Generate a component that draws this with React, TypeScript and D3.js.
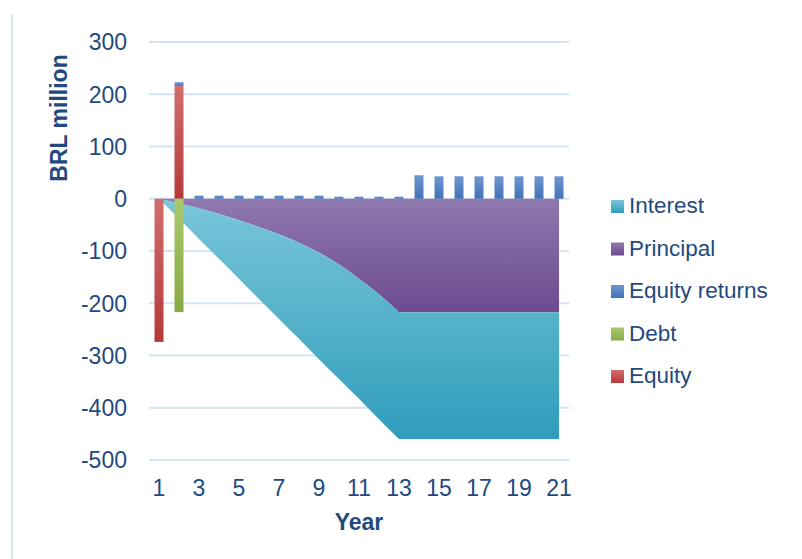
import React from "react";
import * as d3 from "d3";

const years = d3.range(1, 22);
const interest = [0, -29, -59, -86, -112, -138, -162, -184, -204, -219, -230, -239, -243, -243, -243, -243, -243, -243, -243, -243, -243];
const principal = [0, -9, -18, -29, -41, -54, -68, -84, -103, -126, -153, -183, -217, -217, -217, -217, -217, -217, -217, -217, -217];
const equityReturns = [0, 7, 6, 6, 6, 6, 6, 6, 6, 4, 4, 4, 4, 45, 43, 43, 43, 43, 43, 43, 43];
const debt = [0, -217, 0, 0, 0, 0, 0, 0, 0, 0, 0, 0, 0, 0, 0, 0, 0, 0, 0, 0, 0];
const equity = [-274, 216, 0, 0, 0, 0, 0, 0, 0, 0, 0, 0, 0, 0, 0, 0, 0, 0, 0, 0, 0];
const yTicks = [300, 200, 100, 0, -100, -200, -300, -400, -500];
const xTickLabels = [1, 3, 5, 7, 9, 11, 13, 15, 17, 19, 21];
const legendItems = ["Interest", "Principal", "Equity returns", "Debt", "Equity"];
const repaymentEndYear = 13;

const W = 802, H = 559;
const FONT = "'Liberation Sans', Arial, sans-serif";
const TEXT = "#23497e";
const GRID = "#d6e3f4";

const gradients: Record<string, [string, string]> = {
  Interest: ["#7ac6da", "#2f9dbb"],
  Principal: ["#9079ae", "#6c4b91"],
  "Equity returns": ["#6e96d1", "#4273b7"],
  Debt: ["#aac96f", "#88aa43"],
  Equity: ["#d06f6d", "#b6393a"],
};

export default function App() {
  const x = d3.scaleBand<number>().domain(years).range([149, 569]).paddingInner(0.55).paddingOuter(0.275);
  const y = d3.scaleLinear().domain([-500, 300]).range([460, 42]);
  const cx = (yr: number) => (x(yr) as number) + x.bandwidth() / 2;

  const areaRows = years.map((yr, i) => ({ year: yr, Principal: principal[i], Interest: interest[i] }));
  const areaStack = d3.stack<any>().keys(["Principal", "Interest"]).offset(d3.stackOffsetDiverging)(areaRows);
  const areaCurve = d3.area<any>().curve(d3.curveMonotoneX).x((d) => cx(d.data.year)).y0((d) => y(d[0])).y1((d) => y(d[1]));
  const areaFlat = d3.area<any>().x((d) => cx(d.data.year)).y0((d) => y(d[0])).y1((d) => y(d[1]));

  const barRows = years.map((yr, i) => ({ year: yr, Equity: equity[i], Debt: debt[i], "Equity returns": equityReturns[i] }));
  const barStack = d3.stack<any>().keys(["Equity", "Debt", "Equity returns"]).offset(d3.stackOffsetDiverging)(barRows);

  return (
    <svg width={W} height={H} style={{ position: "absolute", left: 0, top: 0, background: "#fff" }} fontFamily={FONT}>
      <defs>
        {Object.entries(gradients).map(([k, [a, b]], i) => (
          <linearGradient key={k} id={`g${i}`} x1="0" y1="0" x2="0" y2="1">
            <stop offset="0%" stopColor={a} />
            <stop offset="100%" stopColor={b} />
          </linearGradient>
        ))}
        {areaStack.map((s) => {
          const [a, b] = gradients[s.key];
          const lo = d3.min(s, (d: any) => Math.min(d[0], d[1])) as number;
          return (
            <linearGradient key={s.key} id={`a-${s.key}`} gradientUnits="userSpaceOnUse" x1="0" x2="0" y1={y(0)} y2={y(lo)}>
              <stop offset="0%" stopColor={a} />
              <stop offset="100%" stopColor={b} />
            </linearGradient>
          );
        })}
      </defs>
      <line x1={12} x2={12} y1={14} y2={H} stroke={GRID} strokeWidth={2} />
      {yTicks.map((t) => (
        <g key={t}>
          <line x1={149} x2={569} y1={y(t)} y2={y(t)} stroke={GRID} strokeWidth={2} />
          <text x={127} y={y(t)} dy="0.36em" textAnchor="end" fontSize={23} fill={TEXT}>{t}</text>
        </g>
      ))}
      {areaStack.map((s) => {
        const first = s.filter((d: any) => d.data.year <= repaymentEndYear);
        const rest = s.filter((d: any) => d.data.year >= repaymentEndYear);
        return (
          <g key={s.key} fill={`url(#a-${s.key})`}>
            <path d={areaCurve(first as any) || ""} />
            <path d={areaFlat(rest as any) || ""} />
          </g>
        );
      })}
      {barStack.map((s) => {
        const gi = Object.keys(gradients).indexOf(s.key);
        return (
          <g key={s.key}>
            {s.map((d: any, i: number) =>
              d[1] - d[0] === 0 ? null : (
                <rect key={i} x={x(d.data.year)} width={x.bandwidth()} y={y(Math.max(d[0], d[1]))}
                  height={Math.abs(y(d[0]) - y(d[1]))} fill={`url(#g${gi})`} />
              )
            )}
          </g>
        );
      })}
      {xTickLabels.map((t) => (
        <text key={t} x={cx(t)} y={496} textAnchor="middle" fontSize={23} fill={TEXT}>{t}</text>
      ))}
      <text x={359} y={530} textAnchor="middle" fontSize={23} fontWeight="bold" fill={TEXT}>Year</text>
      <text transform="translate(67,118) rotate(-90)" textAnchor="middle" fontSize={23} fontWeight="bold" fill={TEXT}>BRL million</text>
      {legendItems.map((k, i) => {
        const gi = Object.keys(gradients).indexOf(k);
        const yy = 200 + i * 42.5;
        return (
          <g key={k}>
            <rect x={611} y={yy} width={13} height={13} fill={`url(#g${gi})`} />
            <text x={629} y={yy + 13} fontSize={22.5} fill={TEXT}>{k}</text>
          </g>
        );
      })}
    </svg>
  );
}
